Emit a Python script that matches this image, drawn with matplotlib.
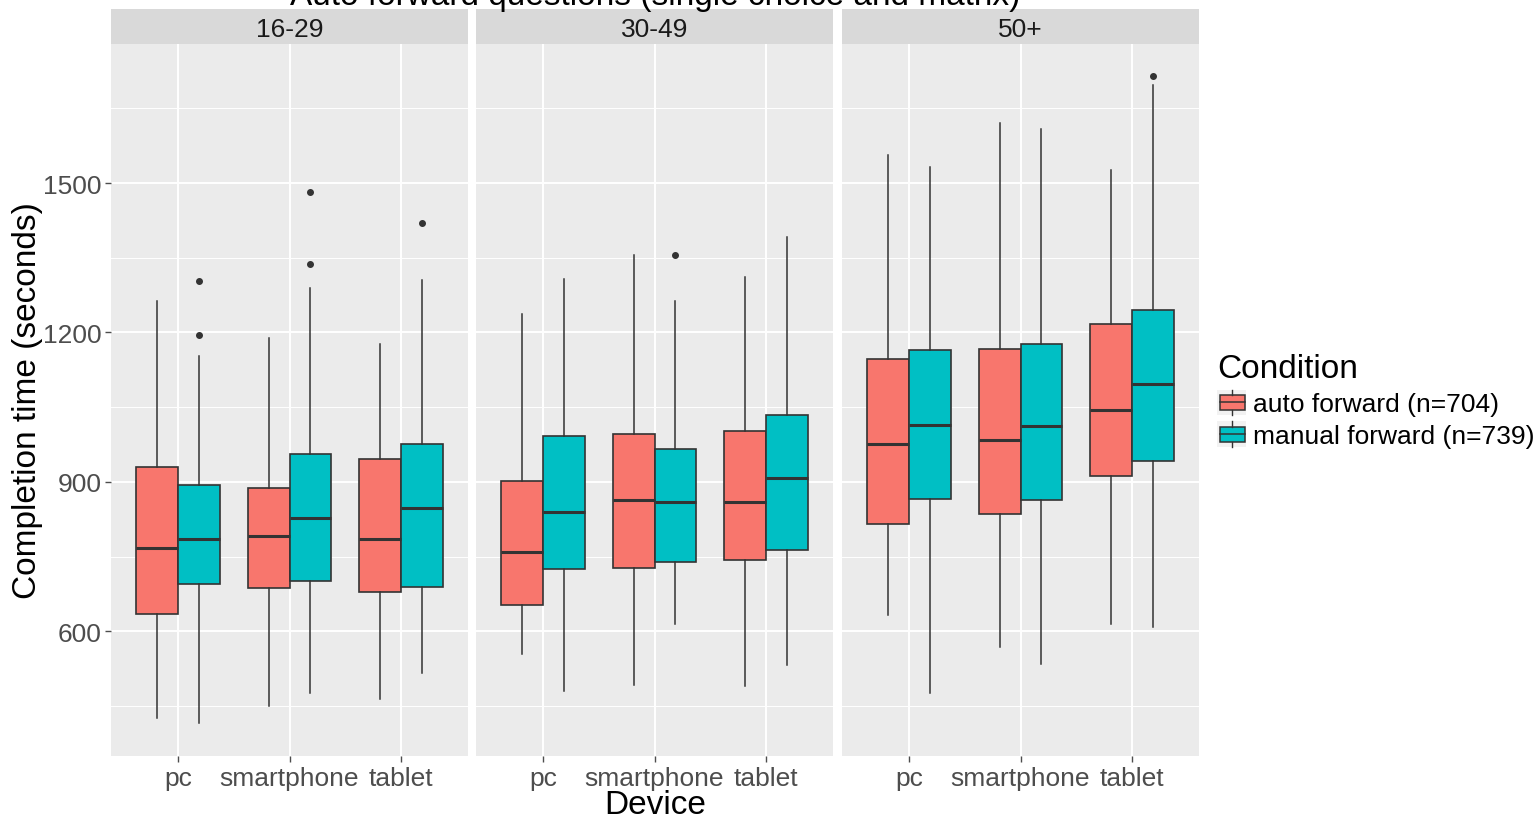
import matplotlib.pyplot as plt
import matplotlib.patches as mpatches
from matplotlib.lines import Line2D
from matplotlib.legend_handler import HandlerBase

# datos (segundos)
edades = ['16-29', '30-49', '50+']
dispositivos = ['pc', 'smartphone', 'tablet']
condiciones = ['auto forward (n=704)', 'manual forward (n=739)']
colores = ['#F8766D', '#00BFC4']

# filas = edad, columnas = dispositivo
auto_whishi = [[1264, 1188, 1176], [1238, 1356, 1312], [1557, 1620, 1526]]
auto_q3 = [[930, 888, 947], [902, 997, 1003], [1147, 1167, 1218]]
auto_med = [[767, 791, 786], [759, 864, 859], [976, 984, 1045]]
auto_q1 = [[636, 687, 680], [654, 727, 744], [815, 835, 911]]
auto_whislo = [[427, 450, 464], [555, 492, 490], [632, 568, 614]]
auto_fliers = [[[], [], []], [[], [], []], [[], [], []]]

manual_whishi = [[1153, 1289, 1306], [1307, 1264, 1391], [1532, 1608, 1696]]
manual_q3 = [[893, 956, 977], [992, 966, 1035], [1165, 1176, 1246]]
manual_med = [[786, 827, 847], [839, 859, 907], [1014, 1012, 1096]]
manual_q1 = [[696, 702, 690], [725, 740, 764], [866, 863, 942]]
manual_whislo = [[416, 476, 517], [481, 614, 532], [476, 535, 608]]
manual_fliers = [[[1304, 1194], [1482, 1337], [1420]], [[], [1355], []], [[], [], [1714]]]

series = [
    (auto_q1, auto_med, auto_q3, auto_whislo, auto_whishi, auto_fliers),
    (manual_q1, manual_med, manual_q3, manual_whislo, manual_whishi, manual_fliers),
]

plt.rcParams['font.family'] = ['Liberation Sans', 'DejaVu Sans']

W, H = 1535, 820
fig = plt.figure(figsize=(W / 100, H / 100), dpi=100)

panel_x = [111, 476, 842]
panel_w = 357
top_px, bot_px = 45, 757
gris_texto = '#4D4D4D'
borde = '#333333'

for k, edad in enumerate(edades):
    ax = fig.add_axes([panel_x[k] / W, 1 - bot_px / H, panel_w / W, (bot_px - top_px) / H])
    ax.set_facecolor('#EBEBEB')
    for s, (q1, med, q3, lo, hi, fl) in enumerate(series):
        stats = []
        for j in range(len(dispositivos)):
            stats.append({'q1': q1[k][j], 'med': med[k][j], 'q3': q3[k][j],
                          'whislo': lo[k][j], 'whishi': hi[k][j], 'fliers': fl[k][j]})
        pos = [j + 1 + (s - 0.5) * 0.375 for j in range(len(dispositivos))]
        ax.bxp(stats, positions=pos, widths=0.375, patch_artist=True, showcaps=False,
               boxprops=dict(facecolor=colores[s], edgecolor=borde, linewidth=1.2),
               medianprops=dict(color=borde, linewidth=2.2),
               whiskerprops=dict(color=borde, linewidth=1.1),
               flierprops=dict(marker='o', markersize=4, markerfacecolor=borde,
                               markeredgecolor=borde), zorder=3)
    ax.set_xlim(0.4, 3.6)
    ax.set_ylim(350, 1779)
    ax.set_xticks([1, 2, 3])
    ax.set_xticklabels(dispositivos)
    ax.set_yticks([600, 900, 1200, 1500])
    ax.set_yticks([450, 750, 1050, 1350, 1650], minor=True)
    ax.grid(True, which='major', color='white', linewidth=1.4, zorder=0)
    ax.grid(True, which='minor', axis='y', color='white', linewidth=0.7, zorder=0)
    ax.set_axisbelow(True)
    for sp in ax.spines.values():
        sp.set_visible(False)
    ax.tick_params(axis='x', colors=gris_texto, labelsize=19, length=4, width=1, pad=3)
    ax.tick_params(axis='y', which='major', colors=gris_texto, labelsize=19, length=4, width=1, pad=3)
    ax.tick_params(axis='y', which='minor', length=0)
    if k > 0:
        ax.tick_params(axis='y', which='major', labelleft=False, length=0)

    # franja superior
    st = fig.add_axes([panel_x[k] / W, 1 - top_px / H, panel_w / W, 35 / H])
    st.set_facecolor('#D9D9D9')
    st.set_xticks([])
    st.set_yticks([])
    for sp in st.spines.values():
        sp.set_visible(False)
    st.text(0.5, 0.42, edad, ha='center', va='center', fontsize=19, color='#1A1A1A',
            transform=st.transAxes)

fig.text(655 / W, 1 - 5 / H, 'Auto forward questions (single choice and matrix)',
         ha='center', va='baseline', fontsize=24)
fig.text(655 / W, 1 - 806 / H, 'Device', ha='center', va='center', fontsize=24)
fig.text(28 / W, 1 - 401 / H, 'Completion time (seconds)', ha='center', va='center',
         rotation=90, fontsize=24)


class ClaveCaja(HandlerBase):
    def create_artists(self, legend, orig_handle, xdescent, ydescent, width, height, fontsize, trans):
        fondo = mpatches.Rectangle((-xdescent, -ydescent), width, height, facecolor='#F2F2F2',
                                   edgecolor='none', transform=trans)
        x0 = -xdescent + width * 0.08
        w = width * 0.86
        y0 = -ydescent + height * 0.2
        h = height * 0.6
        caja = mpatches.Rectangle((x0, y0), w, h, facecolor=orig_handle.get_facecolor(),
                                  edgecolor=borde, linewidth=1.1, transform=trans)
        xm = -xdescent + width / 2
        med = Line2D([x0, x0 + w], [y0 + h / 2] * 2, color=borde, linewidth=1.1, transform=trans)
        b1 = Line2D([xm, xm], [-ydescent, y0], color=borde, linewidth=1.0, transform=trans)
        b2 = Line2D([xm, xm], [y0 + h, -ydescent + height], color=borde, linewidth=1.0, transform=trans)
        return [fondo, caja, med, b1, b2]


handles = [mpatches.Patch(facecolor=c) for c in colores]
leg = fig.legend(handles, condiciones, loc='upper left', bbox_to_anchor=(1212 / W, 1 - 349 / H),
                 title='Condition', title_fontsize=24, fontsize=19, frameon=False,
                 handler_map={mpatches.Patch: ClaveCaja()}, handlelength=1.1, handleheight=1.1,
                 handletextpad=0.25, labelspacing=0.2, alignment='left', borderaxespad=0,
                 borderpad=0.2)

fig.savefig('out.png', dpi=100)
